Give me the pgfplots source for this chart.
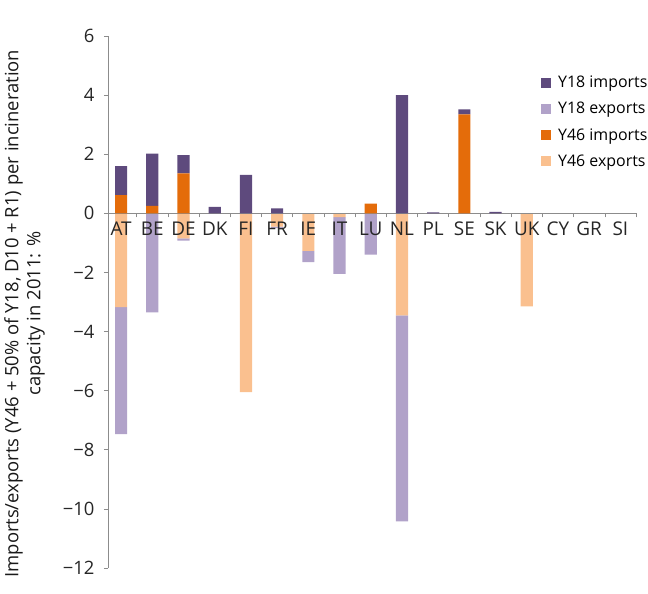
\documentclass[border=0pt]{standalone}
\usepackage{fontspec}
\setmainfont{Open Sans}
\usepackage{pgfplots}
\pgfplotsset{compat=1.18}
\definecolor{ydark}{RGB}{94,74,125}
\definecolor{ylight}{RGB}{177,162,201}
\definecolor{oimp}{RGB}{228,108,10}
\definecolor{oexp}{RGB}{250,192,143}
\definecolor{axgray}{RGB}{140,140,140}
\pgfplotsset{
 common/.style={
  scale only axis, width=528bp, height=532bp,
  at={(108bp,26bp)}, anchor=south west,
  xmin=-0.42, xmax=16.5, ymin=-12, ymax=6,
  ybar stacked, bar width=0.39,
 },
 sqleg/.style={legend image code/.code={\fill[##1] (0bp,-5bp) rectangle (10bp,5bp);}},
}
\begin{document}
\begin{tikzpicture}
\path[use as bounding box] (0,0) rectangle (648bp,594bp);
\begin{axis}[common, hide axis]
% Y46 exports
\addplot[fill=oexp, draw=none] coordinates {
(0,-3.17) (1,0) (2,-0.85) (3,0) (4,-6.05) (5,-0.45) (6,-1.27) (7,-0.13) (8,0) (9,-3.45)
(10,0) (11,0) (12,0) (13,-3.15) (14,0) (15,0) (16,0)};
% Y18 exports
\addplot[fill=ylight, draw=none] coordinates {
(0,-4.30) (1,-3.35) (2,-0.07) (3,0) (4,0) (5,-0.05) (6,-0.38) (7,-1.92) (8,-1.40) (9,-6.97)
(10,0) (11,0) (12,0) (13,0) (14,0) (15,0) (16,0)};
\end{axis}
\begin{axis}[common,
 axis x line=middle, axis y line=left,
 axis line style={draw=axgray, line width=0.7pt, -},
 hide obscured x ticks=false, hide obscured y ticks=false,
 xtick={0,...,16},
 xticklabels={AT,BE,DE,DK,FI,FR,IE,IT,LU,NL,PL,SE,SK,UK,CY,GR,SI},
 major x tick style={draw=none},
 minor xtick={0.5,1.5,...,16.5},
 minor x tick style={draw=axgray, line width=0.6pt},
 minor tick length=4bp, major tick length=4bp,
 tick align=outside,
 ytick={-12,-10,...,6},
 yticklabels={−12,−10,−8,−6,−4,−2,0,2,4,6},
 y tick style={draw=axgray, line width=0.6pt},
 xticklabel style={font=\fontsize{19}{19}\selectfont, text=black!85, yshift=-1bp},
 yticklabel style={font=\fontsize{18.5}{18.5}\selectfont, text=black!85, xshift=-6bp},
 ylabel={Imports/exports (Y46 + 50\% of Y18, D10 + R1) per incineration\\capacity in 2011: \%},
 ylabel style={align=center, font=\fontsize{18.5}{22}\selectfont, text=black!90,
   at={(axis description cs:-0.158,0.478)}, anchor=center},
 legend style={at={(0.82,0.929)}, anchor=north west, draw=none, fill=none,
   font=\fontsize{16}{16}\selectfont, row sep=9.2bp, inner sep=0pt,
   /tikz/every odd column/.append style={column sep=5bp}},
 legend cell align=left,
]
\addlegendimage{sqleg, fill=ydark, draw=none}
\addlegendentry{Y18 imports}
\addlegendimage{sqleg, fill=ylight, draw=none}
\addlegendentry{Y18 exports}
\addlegendimage{sqleg, fill=oimp, draw=none}
\addlegendentry{Y46 imports}
\addlegendimage{sqleg, fill=oexp, draw=none}
\addlegendentry{Y46 exports}
% Y46 imports
\addplot[fill=oimp, draw=none, forget plot] coordinates {
(0,0.62) (1,0.25) (2,1.35) (3,0) (4,0) (5,0) (6,0) (7,0) (8,0.33) (9,0)
(10,0) (11,3.35) (12,0) (13,0) (14,0) (15,0) (16,0)};
% Y18 imports
\addplot[fill=ydark, draw=none, forget plot] coordinates {
(0,0.98) (1,1.77) (2,0.62) (3,0.22) (4,1.30) (5,0.17) (6,0) (7,0) (8,0) (9,4.0)
(10,0.03) (11,0.17) (12,0.05) (13,0) (14,0) (15,0) (16,0)};
\end{axis}
\end{tikzpicture}
\end{document}
